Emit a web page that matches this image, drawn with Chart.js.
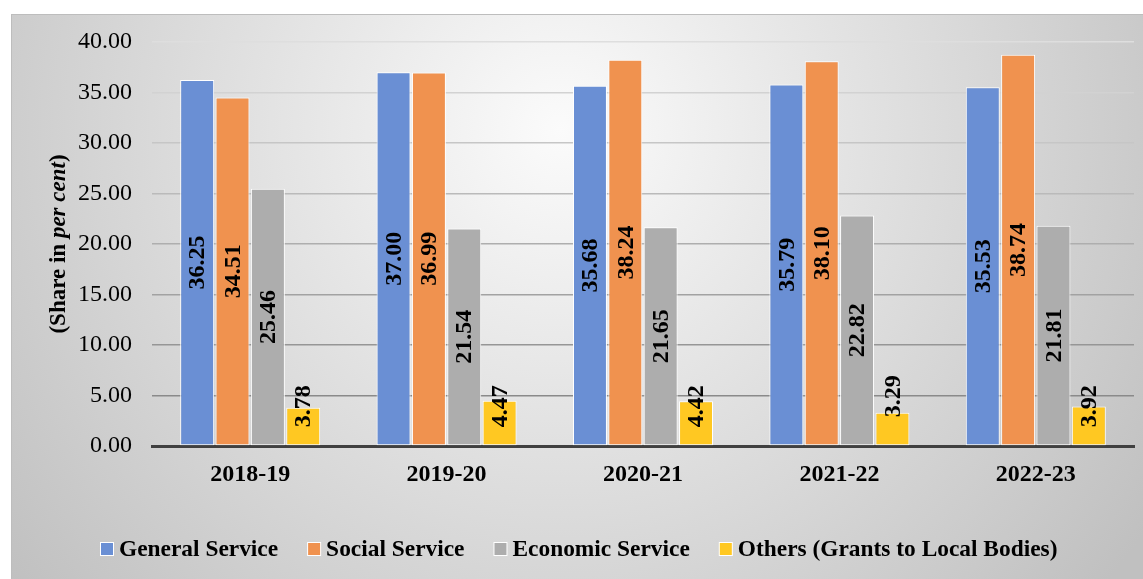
<!DOCTYPE html>
<html>
<head>
<meta charset="utf-8">
<script src="https://cdn.jsdelivr.net/npm/chart.js@4"></script>
<style>
  html, body { margin: 0; padding: 0; background: #fff; }
  #wrap { width: 1143px; height: 579px; }
</style>
</head>
<body>
<div id="wrap"><canvas id="c" width="1143" height="579"></canvas></div>
<script>
const categories = ['2018-19', '2019-20', '2020-21', '2021-22', '2022-23'];
const generalService = [36.25, 37.00, 35.68, 35.79, 35.53];
const socialService = [34.51, 36.99, 38.24, 38.10, 38.74];
const economicService = [25.46, 21.54, 21.65, 22.82, 21.81];
const othersGrants = [3.78, 4.47, 4.42, 3.29, 3.92];
const seriesNames = ['General Service', 'Social Service', 'Economic Service', 'Others (Grants to Local Bodies)'];
const seriesColors = ['#6a8fd4', '#f0924f', '#adadad', '#ffc822'];
const yMin = 0, yMax = 40, yStep = 5;
const yTitleParts = [['(Share in ', 'bold'], ['per cent', 'italic bold'], [')', 'bold']];

const FONT = '"Liberation Serif", "Times New Roman", serif';

const bgPlugin = {
  id: 'bg',
  beforeDraw(chart) {
    const ctx = chart.ctx;
    ctx.save();
    ctx.fillStyle = '#ffffff';
    ctx.fillRect(0, 0, chart.width, chart.height);
    const g = ctx.createRadialGradient(560, 130, 0, 560, 130, 710);
    g.addColorStop(0, '#fbfbfb');
    g.addColorStop(1, '#c0c0c0');
    ctx.fillStyle = g;
    ctx.fillRect(11, 14, chart.width - 11, chart.height - 14);
    ctx.strokeStyle = '#bdbdbd';
    ctx.lineWidth = 1;
    ctx.beginPath();
    ctx.moveTo(11, 14.5); ctx.lineTo(chart.width, 14.5);
    ctx.moveTo(11.5, 14); ctx.lineTo(11.5, chart.height);
    ctx.stroke();
    ctx.restore();
  }
};

const labelPlugin = {
  id: 'barLabels',
  afterDatasetsDraw(chart) {
    const ctx = chart.ctx;
    ctx.save();
    ctx.font = 'bold 24px ' + FONT;
    ctx.fillStyle = '#000';
    ctx.textAlign = 'center';
    ctx.textBaseline = 'middle';
    chart.data.datasets.forEach((ds, di) => {
      const meta = chart.getDatasetMeta(di);
      meta.data.forEach((bar, i) => {
        const txt = ds.data[i].toFixed(2);
        const h = bar.base - bar.y;
        let cy = (bar.y + bar.base) / 2;
        if (h < 36) cy = bar.base - 49;
        else cy = Math.min(cy, bar.base - 39);
        ctx.save();
        ctx.translate(bar.x + 1, cy);
        ctx.rotate(-Math.PI / 2);
        ctx.fillText(txt, 0, 0);
        ctx.restore();
      });
    });
    ctx.restore();
  }
};

const decorPlugin = {
  id: 'decor',
  afterDraw(chart) {
    const ctx = chart.ctx;
    ctx.save();
    let total = 0;
    const widths = yTitleParts.map(p => {
      ctx.font = p[1] + ' 23px ' + FONT;
      const w = ctx.measureText(p[0]).width;
      total += w;
      return w;
    });
    ctx.translate(59, 244);
    ctx.rotate(-Math.PI / 2);
    ctx.fillStyle = '#000';
    ctx.textBaseline = 'middle';
    ctx.textAlign = 'left';
    let x = -total / 2;
    yTitleParts.forEach((p, i) => {
      ctx.font = p[1] + ' 23px ' + FONT;
      ctx.fillText(p[0], x, 0);
      x += widths[i];
    });
    ctx.restore();

    // Legend
    ctx.save();
    ctx.font = 'bold 23.4px ' + FONT;
    ctx.textBaseline = 'middle';
    ctx.textAlign = 'left';
    let lx = 101;
    const ly = 549;
    chart.data.datasets.forEach((ds) => {
      ctx.fillStyle = '#ffffff';
      ctx.fillRect(lx - 1, ly - 7, 14, 14);
      ctx.fillStyle = ds.backgroundColor;
      ctx.fillRect(lx, ly - 6, 12, 12);
      ctx.fillStyle = '#000';
      ctx.fillText(ds.label, lx + 18, ly + 1);
      lx += 18 + ctx.measureText(ds.label).width + 30;
    });
    ctx.restore();
  }
};

const seriesValues = [generalService, socialService, economicService, othersGrants];

new Chart(document.getElementById('c'), {
  type: 'bar',
  data: {
    labels: categories,
    datasets: seriesValues.map((vals, i) => ({
      label: seriesNames[i],
      data: vals,
      backgroundColor: seriesColors[i],
      borderColor: '#ffffff',
      borderWidth: 1,
      borderSkipped: false,
      barPercentage: 0.96,
      categoryPercentage: 0.72
    }))
  },
  options: {
    responsive: false,
    animation: false,
    devicePixelRatio: 1,
    layout: { padding: { left: 0, right: 9, top: 42, bottom: 0 } },
    plugins: {
      legend: { display: false },
      title: { display: false },
      tooltip: { enabled: false }
    },
    scales: {
      x: {
        grid: { display: false, drawTicks: false },
        border: { display: true, color: '#404040', width: 3 },
        ticks: {
          color: '#000',
          font: { family: FONT, size: 24, weight: 'bold' },
          padding: 14,
          maxRotation: 0
        },
        afterFit(s) { s.height = 133; }
      },
      y: {
        min: yMin,
        max: yMax,
        ticks: {
          stepSize: yStep,
          color: '#000',
          font: { family: FONT, size: 24 },
          padding: 20,
          callback: v => Number(v).toFixed(2)
        },
        grid: {
          drawTicks: false,
          color: (c) => {
            const v = c.tick ? c.tick.value : 0;
            if (v === 0) return 'rgba(0,0,0,0)';
            const g = Math.round(138 + (v - 5) / 35 * (222 - 138));
            return `rgb(${g},${g},${g})`;
          },
          lineWidth: 1.6
        },
        border: { display: false },
        afterFit(s) { s.width = 152; }
      }
    }
  },
  plugins: [bgPlugin, labelPlugin, decorPlugin]
});
</script>
</body>
</html>
